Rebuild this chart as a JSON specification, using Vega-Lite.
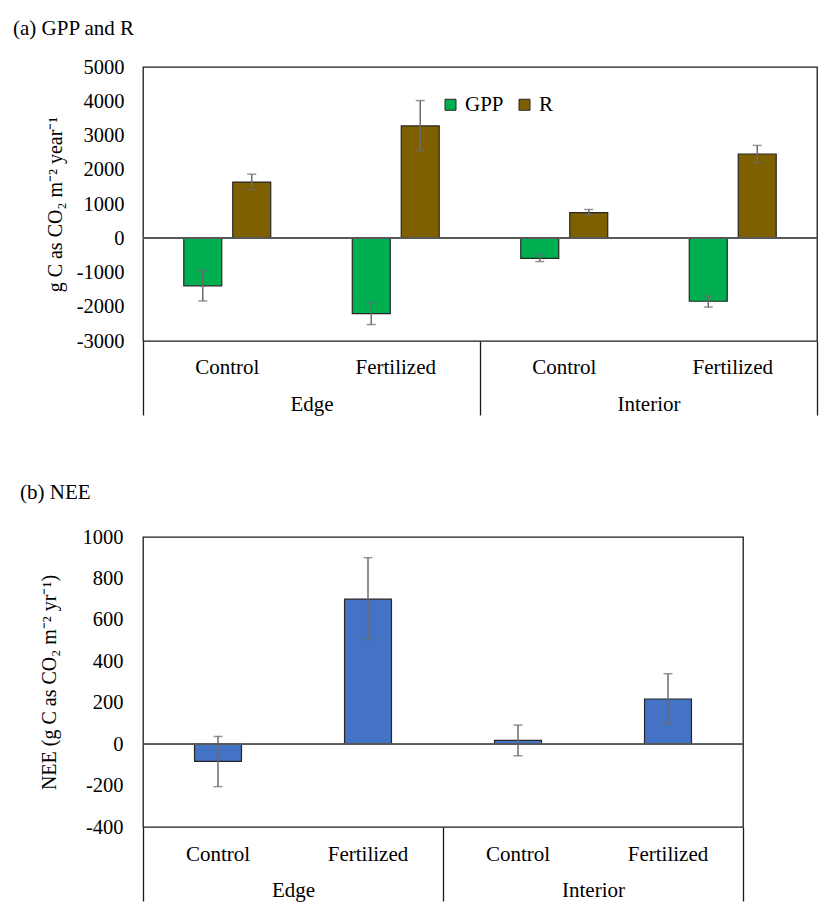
{
  "$schema": "https://vega.github.io/schema/vega-lite/v6.json",
  "padding": {"left": 12, "top": 17, "right": 0, "bottom": 0},
  "background": "white",
  "config": {
    "font": "Liberation Serif",
    "view": {"stroke": "#1a1a1a", "strokeWidth": 1.3},
    "axis": {"labelColor": "black", "titleColor": "black", "labelFont": "Liberation Serif", "titleFont": "Liberation Serif", "grid": false, "labelOverlap": false, "labelSeparation": 0},
    "legend": {"labelFont": "Liberation Serif", "labelColor": "black"},
    "title": {"font": "Liberation Serif", "color": "black", "fontWeight": "normal"}
  },
  "datasets": {
    "a": [
      {"cell": "Edge Control", "site": "Edge", "var": "GPP", "mean": -1390, "lo": -1830, "hi": -940},
      {"cell": "Edge Control", "site": "Edge", "var": "R", "mean": 1640, "lo": 1420, "hi": 1870},
      {"cell": "Edge Fertilized", "site": "Edge", "var": "GPP", "mean": -2200, "lo": -2520, "hi": -1880},
      {"cell": "Edge Fertilized", "site": "Edge", "var": "R", "mean": 3280, "lo": 2560, "hi": 4020},
      {"cell": "Interior Control", "site": "Interior", "var": "GPP", "mean": -585, "lo": -680, "hi": -475},
      {"cell": "Interior Control", "site": "Interior", "var": "R", "mean": 750, "lo": 685, "hi": 840},
      {"cell": "Interior Fertilized", "site": "Interior", "var": "GPP", "mean": -1840, "lo": -2010, "hi": -1690},
      {"cell": "Interior Fertilized", "site": "Interior", "var": "R", "mean": 2460, "lo": 2200, "hi": 2710}
    ],
    "b": [
      {"cell": "Edge Control", "site": "Edge", "mean": -83, "lo": -205, "hi": 37},
      {"cell": "Edge Fertilized", "site": "Edge", "mean": 700, "lo": 504, "hi": 900},
      {"cell": "Interior Control", "site": "Interior", "mean": 18, "lo": -56, "hi": 92},
      {"cell": "Interior Fertilized", "site": "Interior", "mean": 218, "lo": 97, "hi": 340}
    ]
  },
  "concat": [
    {
      "width": 674,
      "height": 274,
      "title": {"text": "(a) GPP and R", "anchor": "start", "frame": "group", "dx": -130, "offset": 18, "fontSize": 21, "font": "Liberation Serif"},
      "data": {"name": "a"},
      "layer": [
        {
          "mark": {"type": "bar", "stroke": "#262626", "strokeWidth": 1.2},
          "encoding": {
            "x": {"field": "cell", "type": "nominal", "scale": {"domain": ["Edge Control", "Edge Fertilized", "Interior Control", "Interior Fertilized"], "paddingInner": 0.484, "paddingOuter": 0.242},
              "axis": {"orient": "bottom", "title": null, "ticks": false, "domain": false, "labelAngle": 0, "labelFont": "Liberation Serif", "labelFontSize": 21, "labelPadding": 15, "labelExpr": "indexof(datum.value, 'Control') >= 0 ? 'Control' : 'Fertilized'"}},
            "xOffset": {"field": "var", "type": "nominal", "scale": {"domain": ["GPP", "R"], "paddingInner": 0.2245, "paddingOuter": 0}},
            "y": {"field": "mean", "type": "quantitative", "scale": {"domain": [-3000, 5000], "nice": false, "zero": false},
              "axis": {"orient": "left", "title": "g C as CO₂ m⁻² year⁻¹", "values": [-3000, -2000, -1000, 0, 1000, 2000, 3000, 4000, 5000], "ticks": false, "domain": false, "labelOverlap": false, "labelBound": false, "labelFont": "Liberation Serif", "labelFontSize": 20.5, "labelPadding": 19, "labelExpr": "'' + datum.value", "titleFont": "Liberation Serif", "titleFontSize": 20, "titleFontWeight": "normal", "titlePadding": 11}},
            "color": {"field": "var", "type": "nominal", "scale": {"domain": ["GPP", "R"], "range": ["#00B050", "#7F6000"]},
              "legend": {"title": null, "orient": "none", "legendX": 297, "legendY": 27, "direction": "horizontal", "symbolType": "square", "symbolSize": 121, "symbolStrokeColor": "#262626", "symbolStrokeWidth": 1, "symbolOpacity": 1, "labelFont": "Liberation Serif", "labelFontSize": 21, "labelOffset": 4, "columnPadding": 10, "padding": 0}}
          }
        },
        {
          "mark": {"type": "rule", "color": "#6b6b6b", "strokeWidth": 1.5},
          "encoding": {
            "x": {"field": "cell", "type": "nominal", "axis": null, "scale": {"domain": ["Edge Control", "Edge Fertilized", "Interior Control", "Interior Fertilized"], "paddingInner": 0.484, "paddingOuter": 0.242}},
            "xOffset": {"field": "var", "type": "nominal", "scale": {"domain": ["GPP", "R"], "paddingInner": 0.2245, "paddingOuter": 0}},
            "y": {"field": "lo", "type": "quantitative", "axis": null, "scale": {"domain": [-3000, 5000], "nice": false, "zero": false}},
            "y2": {"field": "hi"}
          }
        },
        {
          "mark": {"type": "tick", "color": "#6b6b6b", "size": 9, "thickness": 1.5, "orient": "horizontal"},
          "encoding": {
            "x": {"field": "cell", "type": "nominal", "axis": null, "scale": {"domain": ["Edge Control", "Edge Fertilized", "Interior Control", "Interior Fertilized"], "paddingInner": 0.484, "paddingOuter": 0.242}},
            "xOffset": {"field": "var", "type": "nominal", "scale": {"domain": ["GPP", "R"], "paddingInner": 0.2245, "paddingOuter": 0}},
            "y": {"field": "lo", "type": "quantitative", "axis": null, "scale": {"domain": [-3000, 5000], "nice": false, "zero": false}}
          }
        },
        {
          "mark": {"type": "tick", "color": "#6b6b6b", "size": 9, "thickness": 1.5, "orient": "horizontal"},
          "encoding": {
            "x": {"field": "cell", "type": "nominal", "axis": null, "scale": {"domain": ["Edge Control", "Edge Fertilized", "Interior Control", "Interior Fertilized"], "paddingInner": 0.484, "paddingOuter": 0.242}},
            "xOffset": {"field": "var", "type": "nominal", "scale": {"domain": ["GPP", "R"], "paddingInner": 0.2245, "paddingOuter": 0}},
            "y": {"field": "hi", "type": "quantitative", "axis": null, "scale": {"domain": [-3000, 5000], "nice": false, "zero": false}}
          }
        },
        {
          "mark": {"type": "rule", "color": "#595959", "strokeWidth": 1.5},
          "encoding": {"y": {"datum": 0, "type": "quantitative", "axis": null, "scale": {"domain": [-3000, 5000], "nice": false, "zero": false}}}
        },
        {
          "mark": {"type": "tick", "opacity": 0},
          "encoding": {
            "x": {"field": "site", "type": "nominal", "scale": {"domain": ["Edge", "Interior"], "paddingInner": 0, "paddingOuter": 0},
              "axis": {"orient": "bottom", "title": null, "domain": false, "ticks": true, "tickBand": "extent", "tickSize": 74, "tickColor": "#1a1a1a", "tickWidth": 1.3, "labelAngle": 0, "labelFont": "Liberation Serif", "labelFontSize": 21, "labelPadding": -22}},
            "y": {"field": "mean", "type": "quantitative", "axis": null, "scale": {"domain": [-3000, 5000], "nice": false, "zero": false}}
          }
        }
      ],
      "resolve": {"scale": {"x": "independent", "xOffset": "independent"}, "axis": {"x": "independent", "y": "independent"}}
    },
    {
      "width": 600,
      "height": 290,
      "title": {"text": "(b) NEE", "anchor": "start", "frame": "group", "dx": -123, "offset": 24, "fontSize": 21, "font": "Liberation Serif"},
      "data": {"name": "b"},
      "layer": [
        {
          "mark": {"type": "bar", "color": "#4472C4", "stroke": "#262626", "strokeWidth": 1.2},
          "encoding": {
            "x": {"field": "cell", "type": "nominal", "scale": {"domain": ["Edge Control", "Edge Fertilized", "Interior Control", "Interior Fertilized"], "paddingInner": 0.687, "paddingOuter": 0.3435},
              "axis": {"orient": "bottom", "title": null, "ticks": false, "domain": false, "labelAngle": 0, "labelFont": "Liberation Serif", "labelFontSize": 21, "labelPadding": 16, "labelExpr": "indexof(datum.value, 'Control') >= 0 ? 'Control' : 'Fertilized'"}},
            "y": {"field": "mean", "type": "quantitative", "scale": {"domain": [-400, 1000], "nice": false, "zero": false},
              "axis": {"orient": "left", "title": "NEE (g C as CO₂ m⁻² yr⁻¹)", "values": [-400, -200, 0, 200, 400, 600, 800, 1000], "ticks": false, "domain": false, "labelOverlap": false, "labelBound": false, "labelFont": "Liberation Serif", "labelFontSize": 20.5, "labelPadding": 20, "labelExpr": "'' + datum.value", "titleFont": "Liberation Serif", "titleFontSize": 20, "titleFontWeight": "normal", "titlePadding": 23}}
          }
        },
        {
          "mark": {"type": "rule", "color": "#6b6b6b", "strokeWidth": 1.5},
          "encoding": {
            "x": {"field": "cell", "type": "nominal", "axis": null, "scale": {"domain": ["Edge Control", "Edge Fertilized", "Interior Control", "Interior Fertilized"], "paddingInner": 0.687, "paddingOuter": 0.3435}},
            "y": {"field": "lo", "type": "quantitative", "axis": null, "scale": {"domain": [-400, 1000], "nice": false, "zero": false}},
            "y2": {"field": "hi"}
          }
        },
        {
          "mark": {"type": "tick", "color": "#6b6b6b", "size": 9, "thickness": 1.5, "orient": "horizontal"},
          "encoding": {
            "x": {"field": "cell", "type": "nominal", "axis": null, "scale": {"domain": ["Edge Control", "Edge Fertilized", "Interior Control", "Interior Fertilized"], "paddingInner": 0.687, "paddingOuter": 0.3435}},
            "y": {"field": "lo", "type": "quantitative", "axis": null, "scale": {"domain": [-400, 1000], "nice": false, "zero": false}}
          }
        },
        {
          "mark": {"type": "tick", "color": "#6b6b6b", "size": 9, "thickness": 1.5, "orient": "horizontal"},
          "encoding": {
            "x": {"field": "cell", "type": "nominal", "axis": null, "scale": {"domain": ["Edge Control", "Edge Fertilized", "Interior Control", "Interior Fertilized"], "paddingInner": 0.687, "paddingOuter": 0.3435}},
            "y": {"field": "hi", "type": "quantitative", "axis": null, "scale": {"domain": [-400, 1000], "nice": false, "zero": false}}
          }
        },
        {
          "mark": {"type": "rule", "color": "#595959", "strokeWidth": 1.5},
          "encoding": {"y": {"datum": 0, "type": "quantitative", "axis": null, "scale": {"domain": [-400, 1000], "nice": false, "zero": false}}}
        },
        {
          "mark": {"type": "tick", "opacity": 0},
          "encoding": {
            "x": {"field": "site", "type": "nominal", "scale": {"domain": ["Edge", "Interior"], "paddingInner": 0, "paddingOuter": 0},
              "axis": {"orient": "bottom", "title": null, "domain": false, "ticks": true, "tickBand": "extent", "tickSize": 74, "tickColor": "#1a1a1a", "tickWidth": 1.3, "labelAngle": 0, "labelFont": "Liberation Serif", "labelFontSize": 21, "labelPadding": -22}},
            "y": {"field": "mean", "type": "quantitative", "axis": null, "scale": {"domain": [-400, 1000], "nice": false, "zero": false}}
          }
        }
      ],
      "resolve": {"scale": {"x": "independent"}, "axis": {"x": "independent", "y": "independent"}}
    }
  ],
  "columns": 1,
  "align": "none",
  "spacing": 64
}
